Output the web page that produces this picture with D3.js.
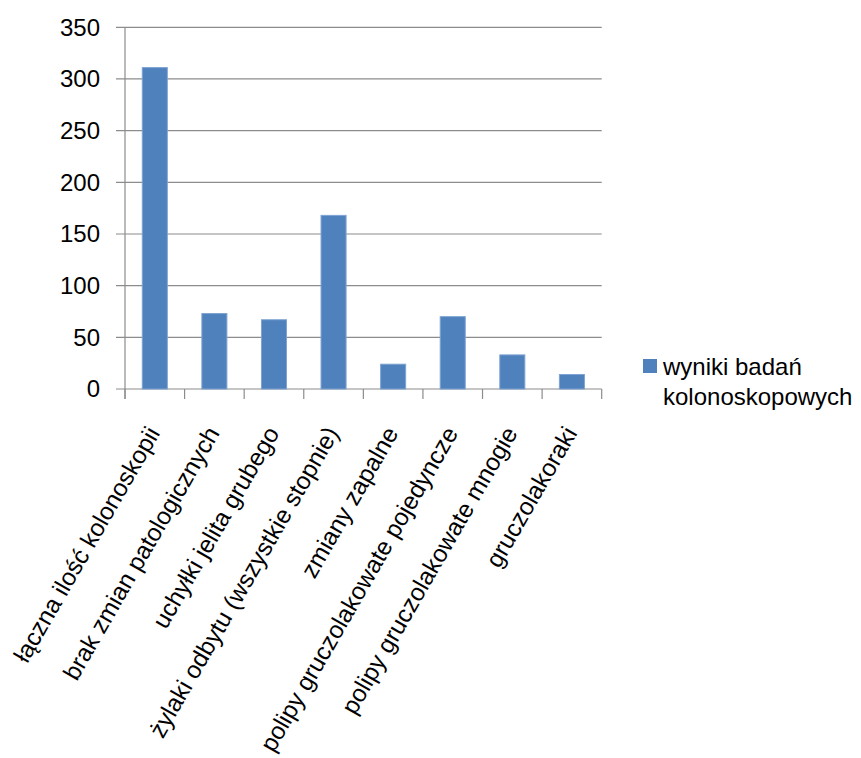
<!DOCTYPE html>
<html>
<head>
<meta charset="utf-8">
<script src="https://cdn.jsdelivr.net/npm/d3@7"></script>
<style>
  html, body { margin: 0; padding: 0; background: #fff; }
  svg { display: block; font-family: "Liberation Sans", Arial, sans-serif; }
</style>
</head>
<body>
<svg id="chart" width="861" height="758"></svg>
<script>
// Wyniki badań kolonoskopowych
const categories = [
  "łączna ilość kolonoskopii",
  "brak zmian patologicznych",
  "uchyłki jelita grubego",
  "żylaki odbytu (wszystkie stopnie)",
  "zmiany zapalne",
  "polipy gruczolakowate pojedyncze",
  "polipy gruczolakowate mnogie",
  "gruczolakoraki"
];
const values = [311, 73, 67, 168, 24, 70, 33, 14];
const yTicks = [0, 50, 100, 150, 200, 250, 300, 350];
const seriesName = ["wyniki badań", "kolonoskopowych"];

const svg = d3.select("#chart");
const margin = { left: 125, top: 27.3, right: 601.7, bottom: 389 };

const x = d3.scaleBand()
  .domain(categories)
  .range([margin.left, margin.right])
  .paddingInner(0.58)
  .paddingOuter(0.29);

const y = d3.scaleLinear()
  .domain([0, 350])
  .range([margin.bottom, margin.top]);

const gridColor = "#8c8c8c";

// horizontal gridlines
svg.append("g")
  .selectAll("line")
  .data(yTicks)
  .join("line")
  .attr("x1", margin.left - 9)
  .attr("x2", margin.right)
  .attr("y1", d => y(d))
  .attr("y2", d => y(d))
  .attr("stroke", gridColor)
  .attr("stroke-width", 1.2);

// y axis line
svg.append("line")
  .attr("x1", margin.left).attr("x2", margin.left)
  .attr("y1", y(350)).attr("y2", y(0) + 10)
  .attr("stroke", gridColor).attr("stroke-width", 1.2);

// category boundary ticks
const bounds = d3.range(categories.length + 1)
  .map(i => margin.left + i * (margin.right - margin.left) / categories.length);
svg.append("g")
  .selectAll("line")
  .data(bounds)
  .join("line")
  .attr("x1", d => d).attr("x2", d => d)
  .attr("y1", y(0)).attr("y2", y(0) + 10)
  .attr("stroke", gridColor).attr("stroke-width", 1.2);

// y tick labels
svg.append("g")
  .selectAll("text")
  .data(yTicks)
  .join("text")
  .attr("x", margin.left - 25)
  .attr("y", d => y(d))
  .attr("dy", "0.35em")
  .attr("text-anchor", "end")
  .attr("font-size", 24)
  .attr("fill", "#000")
  .text(d => d);

// bars
svg.append("g")
  .selectAll("rect")
  .data(values)
  .join("rect")
  .attr("x", (d, i) => x(categories[i]))
  .attr("width", x.bandwidth())
  .attr("y", d => y(d))
  .attr("height", d => y(0) - y(d))
  .attr("fill", "#4f81bd")
  .attr("stroke", "#7ea3d2")
  .attr("stroke-width", 1);

// rotated category labels
svg.append("g")
  .selectAll("text")
  .data(categories)
  .join("text")
  .attr("transform", d => `translate(${x(d) + x.bandwidth() / 2 + 6},${y(0) + 44}) rotate(-60)`)
  .attr("text-anchor", "end")
  .attr("font-size", 24.4)
  .attr("fill", "#000")
  .text(d => d);

// legend
const legend = svg.append("g");
legend.append("rect")
  .attr("x", 643).attr("y", 359)
  .attr("width", 14).attr("height", 14)
  .attr("fill", "#4f81bd");
legend.selectAll("text")
  .data(seriesName)
  .join("text")
  .attr("x", 663)
  .attr("y", (d, i) => 375 + i * 30)
  .attr("font-size", 24)
  .attr("fill", "#000")
  .text(d => d);
</script>
</body>
</html>
